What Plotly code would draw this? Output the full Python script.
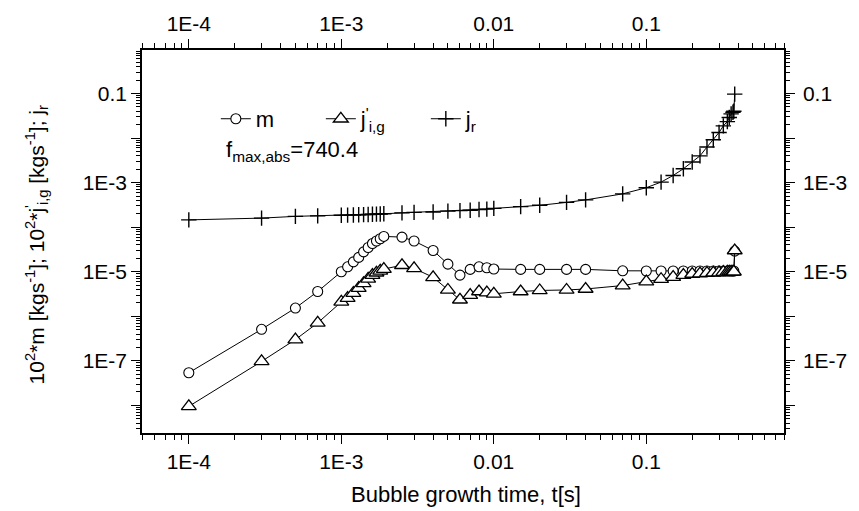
import plotly.graph_objects as go

# ---- data ----
t = [1e-4, 3e-4, 5e-4, 7e-4, 1.0e-3, 1.1e-3, 1.2e-3, 1.3e-3, 1.4e-3, 1.5e-3,
     1.6e-3, 1.7e-3, 1.8e-3, 1.9e-3, 2.5e-3, 3e-3, 4e-3, 5e-3, 6e-3, 7e-3,
     8e-3, 9e-3, 0.01, 0.015, 0.02, 0.03, 0.04, 0.07, 0.1, 0.125,
     0.15, 0.175, 0.2, 0.225, 0.25, 0.275, 0.3, 0.32, 0.34, 0.35,
     0.36, 0.37, 0.375, 0.38]

m = [5.4e-8, 5.1e-7, 1.53e-6, 3.6e-6, 1.0e-5, 1.29e-5, 1.67e-5, 2.1e-5, 2.8e-5, 3.5e-5,
     4.3e-5, 4.9e-5, 5.5e-5, 6.2e-5, 6.0e-5, 4.9e-5, 3.0e-5, 1.48e-5, 8.4e-6, 1.13e-5,
     1.29e-5, 1.23e-5, 1.15e-5, 1.13e-5, 1.13e-5, 1.13e-5, 1.13e-5, 1.05e-5, 1.04e-5, 1.04e-5,
     1.04e-5, 1.04e-5, 1.04e-5, 1.04e-5, 1.04e-5, 1.04e-5, 1.04e-5, 1.04e-5, 1.04e-5, 1.04e-5,
     1.04e-5, 1.04e-5, 1.04e-5, 2.9e-5]

j_ig = [9.5e-9, 9.7e-8, 3.0e-7, 7.1e-7, 2.1e-6, 2.55e-6, 3.3e-6, 4.3e-6, 5.5e-6, 6.9e-6,
        8.4e-6, 9.5e-6, 1.05e-5, 1.15e-5, 1.4e-5, 1.19e-5, 7.5e-6, 3.9e-6, 2.35e-6, 3.0e-6,
        3.6e-6, 3.4e-6, 3.2e-6, 3.6e-6, 3.8e-6, 3.9e-6, 4.1e-6, 4.9e-6, 6.0e-6, 6.8e-6,
        7.6e-6, 8.4e-6, 8.9e-6, 9.1e-6, 9.3e-6, 9.5e-6, 9.6e-6, 9.8e-6, 9.9e-6, 1.0e-5,
        1.0e-5, 1.0e-5, 1.0e-5, 3.0e-5]

j_r = [1.46e-4, 1.6e-4, 1.75e-4, 1.8e-4, 1.85e-4, 1.87e-4, 1.88e-4, 1.9e-4, 1.92e-4, 1.93e-4,
       1.95e-4, 1.97e-4, 1.98e-4, 2.0e-4, 2.1e-4, 2.15e-4, 2.2e-4, 2.3e-4, 2.35e-4, 2.4e-4,
       2.5e-4, 2.55e-4, 2.64e-4, 2.9e-4, 3.1e-4, 3.6e-4, 4.1e-4, 5.6e-4, 7.7e-4, 1.03e-3,
       1.45e-3, 2.05e-3, 2.9e-3, 4.0e-3, 6.3e-3, 9.2e-3, 1.34e-2, 1.88e-2, 2.35e-2, 2.9e-2,
       3.5e-2, 3.8e-2, 4.0e-2, 0.097]

x_tickvals = [1e-4, 1e-3, 1e-2, 1e-1]
x_ticktext = ["1E-4", "1E-3", "0.01", "0.1"]
y_tickvals = [1e-8, 1e-7, 1e-6, 1e-5, 1e-4, 1e-3, 1e-2, 1e-1]
y_ticktext = ["", "1E-7", "", "1E-5", "", "1E-3", "", "0.1"]

x_minor = [k * 10.0 ** e for e in range(-5, 0) for k in range(2, 10)]
y_minor = [k * 10.0 ** e for e in range(-9, 0) for k in range(2, 10)]

FONT = "Liberation Sans, Arial, sans-serif"
xr = [-4.307, -0.097]
yr = [-8.62, -0.022]

fig = go.Figure()
common_line = dict(color="black", width=1)
fig.add_trace(go.Scatter(x=t, y=m, name="m", mode="lines+markers", line=common_line,
                         marker=dict(symbol="circle", size=10, color="white",
                                     line=dict(color="black", width=1.1))))
fig.add_trace(go.Scatter(x=t, y=j_ig, name="j<sup>'</sup><sub>i,g</sub>", mode="lines+markers",
                         line=common_line,
                         marker=dict(symbol="triangle-up", size=13, color="white",
                                     line=dict(color="black", width=1.3))))
fig.add_trace(go.Scatter(x=t, y=j_r, name="j<sub>r</sub>", mode="lines+markers", line=common_line,
                         marker=dict(symbol="cross-thin", size=11, color="black",
                                     line=dict(color="black", width=1.4))))
# invisible trace so the mirrored top/right axes are drawn
fig.add_trace(go.Scatter(x=t[:1], y=j_r[:1], xaxis="x2", yaxis="y2", mode="markers",
                         marker=dict(opacity=0), showlegend=False, hoverinfo="skip"))

axis_common = dict(type="log", showline=True, linecolor="black", linewidth=1.5,
                   ticks="outside", ticklen=9, tickwidth=1.3, tickcolor="black",
                   showgrid=False, zeroline=False, tickmode="array",
                   tickfont=dict(family=FONT, size=21, color="black"))

fig.update_layout(
    width=859, height=511,
    margin=dict(l=142, r=67, t=46, b=78),
    paper_bgcolor="white", plot_bgcolor="white",
    font=dict(family=FONT, color="black"),
    showlegend=True,
    legend=dict(orientation="h", x=0.115, y=0.82, xanchor="left", yanchor="middle",
                bgcolor="rgba(0,0,0,0)", font=dict(family=FONT, size=22, color="black"),
                itemwidth=30, entrywidth=60, entrywidthmode="pixels", tracegroupgap=0),
    xaxis=dict(axis_common, range=xr, side="bottom", tickvals=x_tickvals, ticktext=x_ticktext,
               minor=dict(tickmode="array", tickvals=x_minor, ticks="outside", ticklen=5,
                          tickwidth=1.1, tickcolor="black")),
    xaxis2=dict(axis_common, range=xr, side="top", overlaying="x", anchor="y",
                tickvals=x_tickvals, ticktext=x_ticktext,
                minor=dict(tickmode="array", tickvals=x_minor, ticks="outside", ticklen=5,
                           tickwidth=1.1, tickcolor="black")),
    yaxis=dict(axis_common, range=yr, side="left", tickvals=y_tickvals, ticktext=y_ticktext,
               minor=dict(tickmode="array", tickvals=y_minor, ticks="outside", ticklen=4,
                          tickwidth=1.1, tickcolor="black")),
    yaxis2=dict(axis_common, range=yr, side="right", overlaying="y", anchor="x",
                tickvals=y_tickvals, ticktext=y_ticktext, ticklabelstandoff=4,
                minor=dict(tickmode="array", tickvals=y_minor, ticks="outside", ticklen=4,
                           tickwidth=1.1, tickcolor="black")),
)

fig.add_annotation(text="f<sub>max,abs</sub>=740.4", xref="paper", yref="paper",
                   x=0.128, y=0.735, xanchor="left", yanchor="middle", showarrow=False,
                   font=dict(family=FONT, size=22, color="black"))
fig.add_annotation(text="Bubble growth time, t[s]", xref="paper", yref="paper",
                   x=0.505, y=-0.16, xanchor="center", yanchor="middle", showarrow=False,
                   font=dict(family=FONT, size=22, color="black"))
fig.add_annotation(text="10<sup>2</sup>*m [kgs<sup>-1</sup>]; 10<sup>2</sup>*j<sup>'</sup><sub>i,g</sub> [kgs<sup>-1</sup>]; j<sub>r</sub>",
                   xref="paper", yref="paper", x=-0.165, y=0.49, xanchor="center",
                   yanchor="middle", textangle=-90, showarrow=False,
                   font=dict(family=FONT, size=21, color="black"))

fig.write_html("out.html")
